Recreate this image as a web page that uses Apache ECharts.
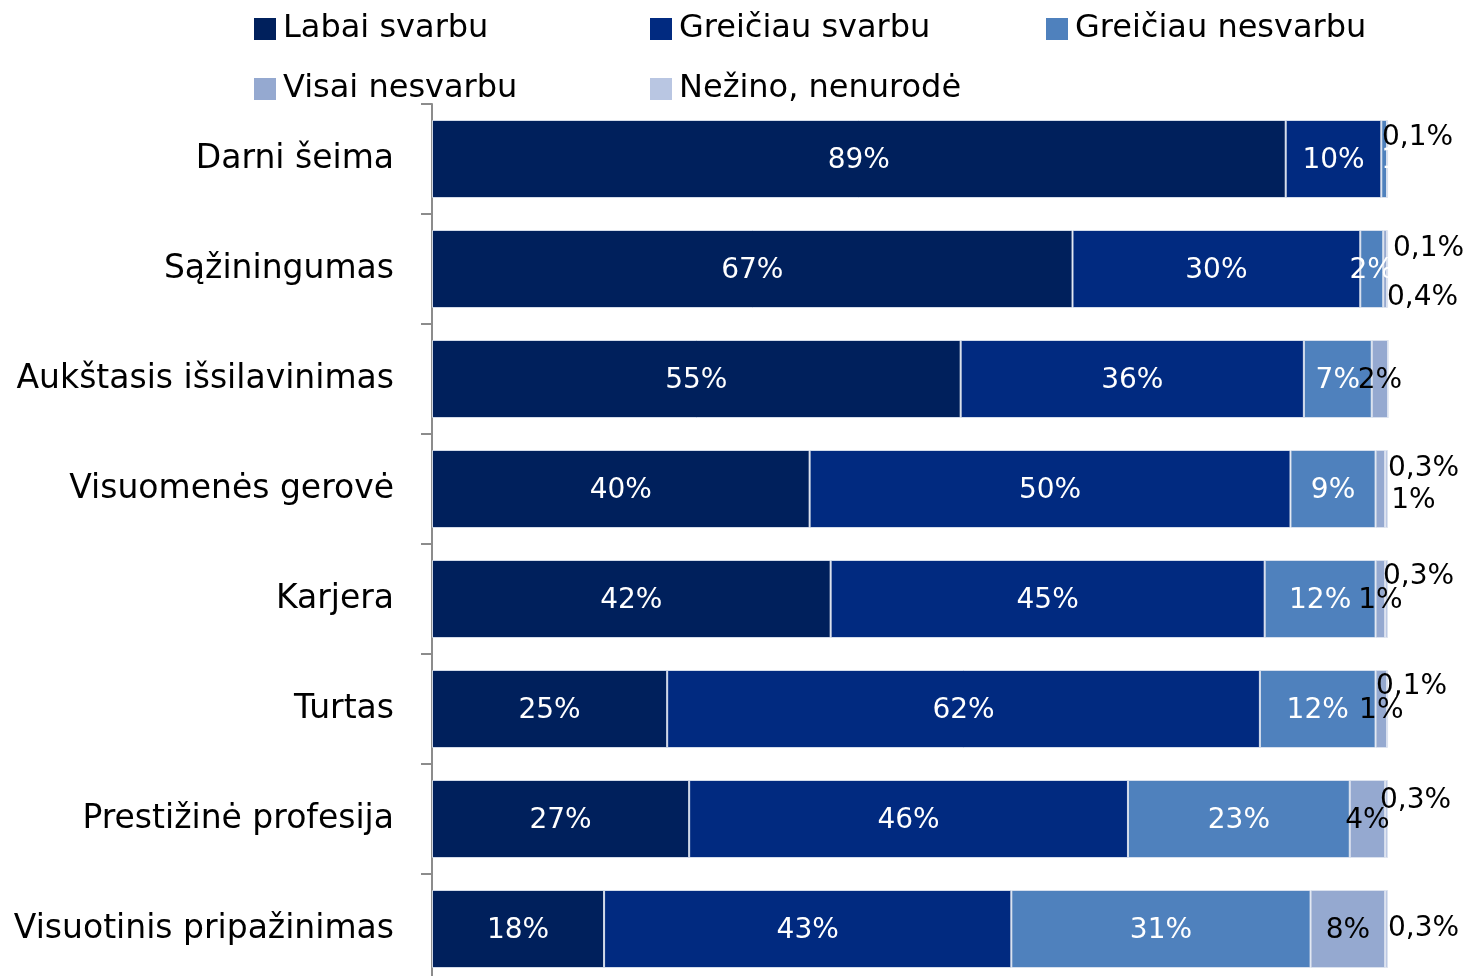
<!DOCTYPE html>
<html>
<head>
<meta charset="utf-8">
<script src="https://cdn.jsdelivr.net/npm/echarts@6/dist/echarts.min.js"></script>
<style>
  html, body { margin: 0; padding: 0; background: #fff; overflow: hidden; }
  #chart { width: 1464px; height: 992px; }
</style>
</head>
<body>
<div id="chart"></div>
<script>
var categories = [
  "Darni šeima",
  "Sąžiningumas",
  "Aukštasis išsilavinimas",
  "Visuomenės gerovė",
  "Karjera",
  "Turtas",
  "Prestižinė profesija",
  "Visuotinis pripažinimas"
];
var seriesNames = ["Labai svarbu", "Greičiau svarbu", "Greičiau nesvarbu", "Visai nesvarbu", "Nežino, nenurodė"];

var labaiSvarbu      = [89.3, 67.0, 55.3, 39.5, 41.7, 24.6, 26.9, 18.0];
var greiciauSvarbu   = [10.0, 30.1, 35.9, 50.3, 45.4, 62.0, 45.9, 42.6];
var greiciauNesvarbu = [0.6, 2.4, 7.1, 8.9, 11.6, 12.1, 23.2, 31.3];
var visaiNesvarbu    = [0, 0.4, 1.7, 1.0, 1.0, 1.2, 3.7, 7.8];
var nezino           = [0.1, 0.1, 0, 0.3, 0.3, 0.1, 0.3, 0.3];

var colors = ["#00205c", "#012a80", "#4f81bd", "#95a9d0", "#b9c6e2"];
var font = "'DejaVu Sans', sans-serif";

function fmt(v) {
  if (!v) return "";
  if (v < 0.5) return v.toFixed(1).replace(".", ",") + "%";
  return Math.round(v) + "%";
}

// label placement tweaks for the thin segments
var visaiLabelTweaks = {
  1: { position: "right", distance: 0, offset: [0, 29] },
  3: { position: "right", distance: 0, offset: [6, 12] }
};
var nezinoOffsets = [[-6, -21], [5, -20], [0, 0], [0, -20], [-5, -22], [-12, -22], [-8, -18], [0, 0]];

function buildData(values, idx) {
  return values.map(function(v, i) {
    var item = { value: v };
    if (idx === 2 && i === 0) {
      item.label = { position: [0, "50%"], align: "left", verticalAlign: "middle" };
    }
    if (idx === 3 && visaiLabelTweaks[i]) {
      item.label = visaiLabelTweaks[i];
    }
    if (idx === 4) {
      item.label = { position: "right", distance: 0, offset: nezinoOffsets[i] };
    }
    return item;
  });
}

var allValues = [labaiSvarbu, greiciauSvarbu, greiciauNesvarbu, visaiNesvarbu, nezino];

var chart = echarts.init(document.getElementById("chart"));

var series = allValues.map(function(vals, idx) {
  return {
    name: seriesNames[idx],
    type: "bar",
    stack: "total",
    barWidth: 78,
    data: buildData(vals, idx),
    itemStyle: {
      color: colors[idx],
      borderColor: "rgba(220,226,238,0.9)",
      borderWidth: 1
    },
    label: {
      show: true,
      color: idx < 3 ? "#ffffff" : "#000000",
      fontFamily: font,
      fontSize: 28,
      offset: [0, 2],
      formatter: function(p) { return fmt(p.value); }
    },
    animation: false
  };
});

// one legend block per item so they sit in fixed columns
var legendSpots = [[249, 8], [645, 8], [1041, 8], [249, 68], [645, 68]];
var legends = seriesNames.map(function(name, i) {
  return {
    data: [name],
    left: legendSpots[i][0],
    top: legendSpots[i][1],
    itemWidth: 22,
    itemHeight: 22,
    icon: "rect",
    itemStyle: { borderWidth: 0 },
    selectedMode: false,
    textStyle: {
      fontFamily: font,
      fontSize: 32,
      lineHeight: 32,
      color: "#000",
      padding: [0, 0, 0, 2]
    }
  };
});

var option = {
  backgroundColor: "#fff",
  legend: legends,
  grid: {
    left: 432,
    right: 76,
    top: 104,
    height: 880,
    containLabel: false
  },
  xAxis: {
    type: "value",
    min: 0,
    max: 100,
    show: false
  },
  yAxis: {
    type: "category",
    inverse: true,
    data: categories,
    axisLine: { show: true, lineStyle: { color: "#8c8c8c", width: 2 } },
    axisTick: { show: true, length: 11, lineStyle: { color: "#8c8c8c", width: 2 } },
    axisLabel: {
      margin: 38,
      fontFamily: font,
      fontSize: 33,
      color: "#000"
    }
  },
  series: series
};

chart.setOption(option);
</script>
</body>
</html>
